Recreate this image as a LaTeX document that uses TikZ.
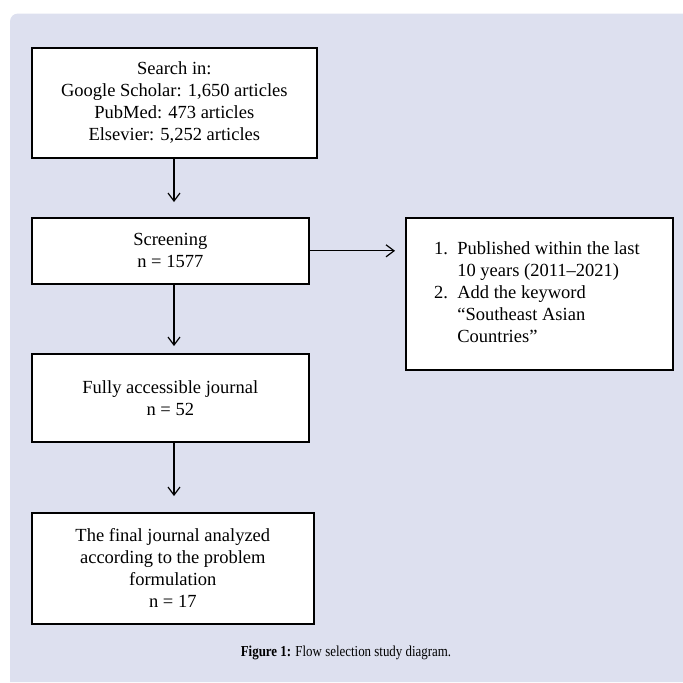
\documentclass[tikz,border=0pt]{standalone}
\usepackage{fontspec}
\setmainfont{Liberation Serif}
\newfontfamily\capfont{Liberation Serif}[FakeStretch=0.85]
\usepackage{tikz}
\usetikzlibrary{arrows.meta,positioning}
\definecolor{fspanel}{RGB}{221,224,239}
\tikzstyle{arrow} = [line width=0.6pt,-{Straight Barb[length=4pt,width=6pt]}]
\tikzstyle{flowbox} = [rectangle, draw=black, fill=white, line width=0.8pt, anchor=north west, inner sep=0pt, align=center, font=\fontsize{9.25}{11}\selectfont]

\begin{document}
\begin{tikzpicture}[x=0.5pt,y=-0.5pt]
\useasboundingbox (0,0) rectangle (683,682);
% shaded panel behind the figure
\fill[fspanel] (683,682) -- (10,682) [rounded corners=4pt] -- (10,13.5) [sharp corners] -- (683,13.5) -- cycle;

% selection steps
\node (search) [flowbox, minimum width=142.5pt, minimum height=55pt] at (31,47) {Search in:\\Google Scholar: 1,650 articles\\PubMed: 473 articles\\Elsevier: 5,252 articles};

\node (screen) [flowbox, minimum width=138.5pt, minimum height=33pt] at (31,217) {Screening\\n = 1577};

\node (criteria) [flowbox, minimum width=133.5pt, minimum height=76pt] at (405,217) {
\begin{tabular}{@{}r@{\hspace{0.5em}}l@{}}
1. & Published within the last\\
 & 10 years (2011--2021)\\
2. & Add the keyword\\
 & ``Southeast Asian\\
 & Countries''
\end{tabular}
};

\node (access) [flowbox, minimum width=138.5pt, minimum height=44pt] at (31,353) {Fully accessible journal\\n = 52};

\node (final) [flowbox, minimum width=141pt, minimum height=55.5pt] at (31,512) {The final journal analyzed\\according to the problem\\formulation\\n = 17};

% caption
\node (caption) at (346,653) {\capfont\fontsize{7.6}{9}\selectfont\textbf{Figure 1:} Flow selection study diagram.};

% connectors
\coordinate (spine) at (174,0);
\draw[arrow, shorten >=7.5pt] (search.south -| spine) -- (screen.north -| spine);
\draw[arrow, shorten >=5pt] (screen.east) -- (screen.east -| criteria.west);
\draw[arrow, shorten >=3.5pt] (screen.south -| spine) -- (access.north -| spine);
\draw[arrow, shorten >=8pt] (access.south -| spine) -- (final.north -| spine);
\end{tikzpicture}
\end{document}
